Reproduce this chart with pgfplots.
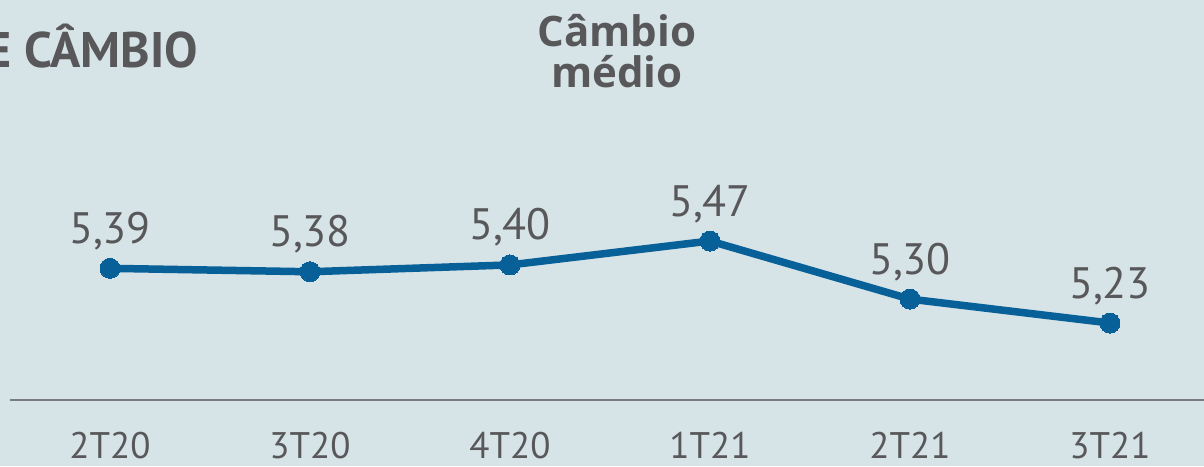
\documentclass[border=0pt]{standalone}
\usepackage{pgfplots}
\pgfplotsset{compat=1.18}
\usepackage{fontspec}
\setmainfont{PT Sans}
\newfontfamily\titlefont{Open Sans}
\definecolor{bg}{RGB}{214,227,231}
\definecolor{txt}{RGB}{88,88,90}
\definecolor{ln}{RGB}{8,96,152}
\definecolor{ax}{RGB}{120,124,126}
\begin{document}
\begin{tikzpicture}
\clip (-10pt,-66pt) rectangle (1194pt,400pt);
\fill[bg] (-10pt,-66pt) rectangle (1194pt,400pt);
\begin{axis}[
  scale only axis, width=1194pt, height=400pt,
  xmin=-0.5, xmax=5.47, ymin=5.0047, ymax=6.1753,
  axis y line=none, axis x line*=bottom,
  x axis line style={-, ax, line width=2pt},
  xtick={0,1,2,3,4,5},
  xticklabels={2T20,3T20,4T20,1T21,2T21,3T21},
  major tick length=0pt,
  xticklabel style={anchor=base, yshift=-58pt, text=txt, font=\fontsize{37}{40}\selectfont, inner ysep=0pt},
  clip=false,
  nodes near coords,
  point meta=explicit symbolic,
  every node near coord/.append style={anchor=base, yshift=25pt, text=txt, font=\fontsize{44}{48}\selectfont},
]
\addplot[ln, line width=7.5pt, mark=*, mark size=10pt, mark options={fill=ln, draw=ln, line width=0pt}]
 table[meta=lab] {
x y lab
0 5.39 5,39
1 5.38 5,38
2 5.40 5,40
3 5.47 5,47
4 5.30 5,30
5 5.23 5,23
};
\end{axis}
\node[anchor=base east, text=txt, font=\fontsize{50}{56}\selectfont\bfseries, inner sep=0pt] at (188pt,332pt) {E CÂMBIO};
\node[anchor=base, text=txt, font=\titlefont\fontsize{42}{46}\selectfont\bfseries, inner sep=0pt] at (607pt,353pt) {Câmbio};
\node[anchor=base, text=txt, font=\titlefont\fontsize{42}{46}\selectfont\bfseries, inner sep=0pt] at (607pt,312pt) {médio};
\end{tikzpicture}
\end{document}
